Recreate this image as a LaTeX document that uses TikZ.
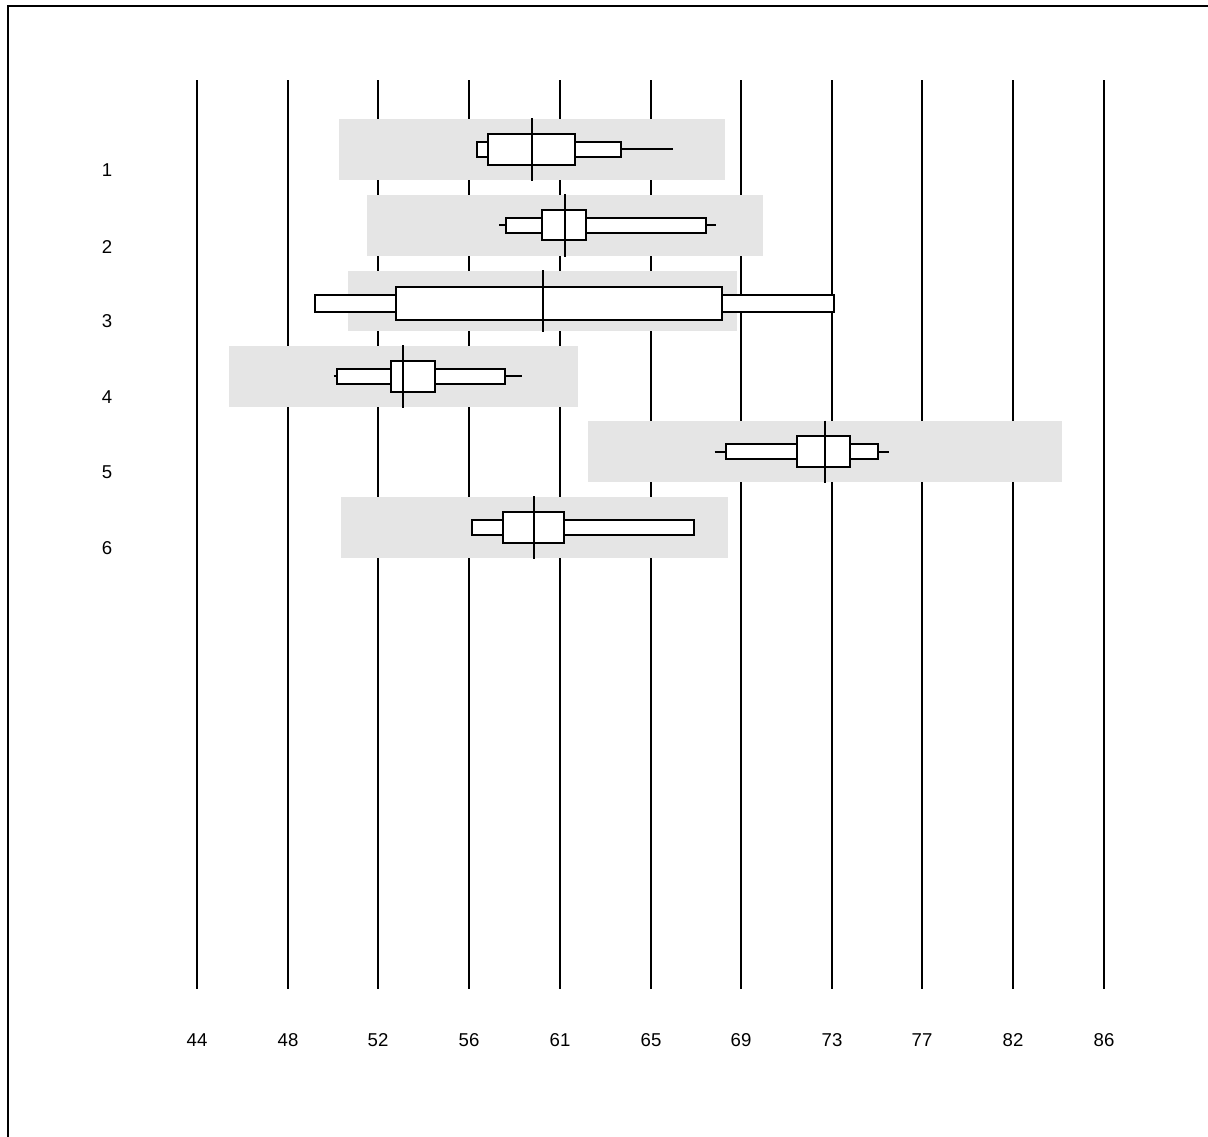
\documentclass[tikz,border=0pt]{standalone}
\usepackage{fontspec}
\setmainfont{Liberation Sans}
\usepackage{tikz}

\begin{document}
\begin{tikzpicture}[x=0.5pt,y=-0.5pt]
\tikzstyle{every node}+=[inner sep=0pt,font=\fontsize{9.3}{11}\selectfont]
\tikzstyle{grid}=[black,line width=1pt]
\tikzstyle{band}=[fill=black!10]
\tikzstyle{bx}=[draw=black,fill=white,line width=1pt]
\tikzstyle{med}=[black,line width=1pt]
\useasboundingbox (0,0) rectangle (1208,1136);
\draw [black,line width=1pt] (8,6) rectangle (1230,1160);
% grid lines and scale
\draw [grid] (197,80) -- (197,989);
\draw (197,1040) node (t44) {44};
\draw [grid] (288,80) -- (288,989);
\draw (288,1040) node (t48) {48};
\draw [grid] (378,80) -- (378,989);
\draw (378,1040) node (t52) {52};
\draw [grid] (469,80) -- (469,989);
\draw (469,1040) node (t56) {56};
\draw [grid] (560,80) -- (560,989);
\draw (560,1040) node (t61) {61};
\draw [grid] (651,80) -- (651,989);
\draw (651,1040) node (t65) {65};
\draw [grid] (741,80) -- (741,989);
\draw (741,1040) node (t69) {69};
\draw [grid] (832,80) -- (832,989);
\draw (832,1040) node (t73) {73};
\draw [grid] (922,80) -- (922,989);
\draw (922,1040) node (t77) {77};
\draw [grid] (1013,80) -- (1013,989);
\draw (1013,1040) node (t82) {82};
\draw [grid] (1104,80) -- (1104,989);
\draw (1104,1040) node (t86) {86};
% row labels
\draw (107,170) node (r1) {1};
\draw (107,247) node (r2) {2};
\draw (107,321) node (r3) {3};
\draw (107,397) node (r4) {4};
\draw (107,472) node (r5) {5};
\draw (107,548) node (r6) {6};
% row 1
\fill [band] (339,119) rectangle (725,179.7);
\draw [med] (620.5,149.3) -- (673,149.3);
\draw [bx] (477,141.6) rectangle (488,157);
\draw [bx] (575,141.6) rectangle (620.5,157);
\draw [bx] (488,134) rectangle (575,164.6);
\draw [med] (531.7,118) -- (531.7,180.5);
% row 2
\fill [band] (367,195) rectangle (763,255.7);
\draw [med] (499,225.3) -- (506,225.3);
\draw [med] (706,225.3) -- (716,225.3);
\draw [bx] (506,217.6) rectangle (542,233);
\draw [bx] (586,217.6) rectangle (706,233);
\draw [bx] (542,209.6) rectangle (586,240);
\draw [med] (565,194) -- (565,256.5);
% row 3
\fill [band] (347.5,270.7) rectangle (737,331.4);
\draw [bx] (315,295.3) rectangle (396,311.7);
\draw [bx] (721.5,295.3) rectangle (834,311.7);
\draw [bx] (396,287.3) rectangle (721.5,319.5);
\draw [med] (543,270) -- (543,332.2);
% row 4
\fill [band] (229,346) rectangle (577.6,406.7);
\draw [med] (333.5,376.3) -- (336.7,376.3);
\draw [med] (504.5,376.3) -- (522,376.3);
\draw [bx] (336.7,368.6) rectangle (391,384);
\draw [bx] (434.7,368.6) rectangle (504.5,384);
\draw [bx] (391,360.7) rectangle (434.7,391.7);
\draw [med] (403,345) -- (403,407.5);
% row 5
\fill [band] (588,421.3) rectangle (1062,482);
\draw [med] (714.7,451.7) -- (725.7,451.7);
\draw [med] (877.7,451.7) -- (888.7,451.7);
\draw [bx] (725.7,444) rectangle (796.7,459.4);
\draw [bx] (850.3,444) rectangle (877.7,459.4);
\draw [bx] (796.7,436) rectangle (850.3,467.3);
\draw [med] (825,420.5) -- (825,483);
% row 6
\fill [band] (341,497) rectangle (728,557.7);
\draw [bx] (472.3,519.8) rectangle (503.3,535.2);
\draw [bx] (564.3,519.8) rectangle (694,535.2);
\draw [bx] (503.3,512) rectangle (564.3,542.7);
\draw [med] (534.3,496) -- (534.3,558.5);
\end{tikzpicture}
\end{document}
